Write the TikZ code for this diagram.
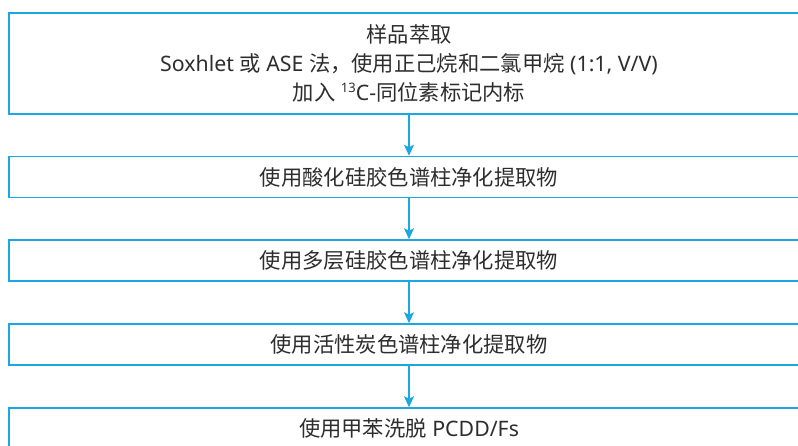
\documentclass[tikz,border=0pt]{standalone}
\usepackage{fontspec}
\setmainfont{Noto Sans}
\newfontfamily\cjk{Noto Sans CJK SC}
\usetikzlibrary{arrows.meta}
\definecolor{lineblue}{RGB}{27,166,228}
\definecolor{txt}{RGB}{45,45,45}
\newcommand{\supnum}[1]{\raisebox{0.75ex}{\fontsize{13}{13}\selectfont #1}}
\tikzset{
  stepbox/.style={draw=lineblue, line width=1.5pt, rectangle, minimum width=800pt, inner sep=0pt,
    text=txt, font=\fontsize{21.3}{29}\selectfont, align=center},
  flow/.style={draw=lineblue, line width=1.3pt, -{Stealth[width=10pt,length=11pt,inset=2.5pt]}}
}
\begin{document}
\begin{tikzpicture}[x=1pt,y=-1pt]
\useasboundingbox (0,0) rectangle (798,445);
\clip (0,0) rectangle (798,445);
\node[stepbox, minimum height=101pt] (b1) at (409,63.5) {{\cjk 样品萃取}\\Soxhlet {\cjk 或} ASE {\cjk 法，使用正己烷和二氯甲烷} (1:1, V/V)\\{\cjk 加入} \supnum{13}C-{\cjk 同位素标记内标}};
\node[stepbox, minimum height=41pt] (b2) at (409,177) {\cjk 使用酸化硅胶色谱柱净化提取物};
\node[stepbox, minimum height=41pt] (b3) at (409,260.5) {\cjk 使用多层硅胶色谱柱净化提取物};
\node[stepbox, minimum height=41pt] (b4) at (409,344.5) {\cjk 使用活性炭色谱柱净化提取物};
\node[stepbox, minimum height=41pt] (b5) at (409,428.5) {{\cjk 使用甲苯洗脱} PCDD/Fs};
\draw[flow] (b1) -- (b2);
\draw[flow] (b2) -- (b3);
\draw[flow] (b3) -- (b4);
\draw[flow] (b4) -- (b5);
\end{tikzpicture}
\end{document}
